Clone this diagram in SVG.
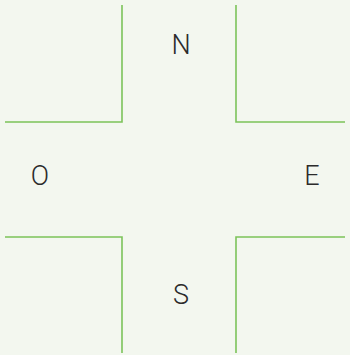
<svg xmlns="http://www.w3.org/2000/svg" width="350" height="355" viewBox="0 0 350 355">
<style>
.road{fill:none;stroke:#7cc35a;stroke-width:1.6}
.lbl{font-family:Roboto,"Liberation Sans",sans-serif;font-weight:300;font-size:27px;fill:#2b2b2b;text-anchor:middle}
</style>
<rect width="350" height="355" fill="#f3f7ef"/>
<g id="connectors">
<path class="road" d="M122,5 V122 H5"/>
<path class="road" d="M236,5 V122 H345"/>
<path class="road" d="M5,237 H122 V353"/>
<path class="road" d="M345,237 H236 V353"/>
</g>
<g id="N"><text class="lbl" x="181" y="54">N</text></g>
<g id="O"><text class="lbl" x="40" y="185">O</text></g>
<g id="E"><text class="lbl" x="312" y="185">E</text></g>
<g id="S"><text class="lbl" x="181" y="304">S</text></g>
</svg>
